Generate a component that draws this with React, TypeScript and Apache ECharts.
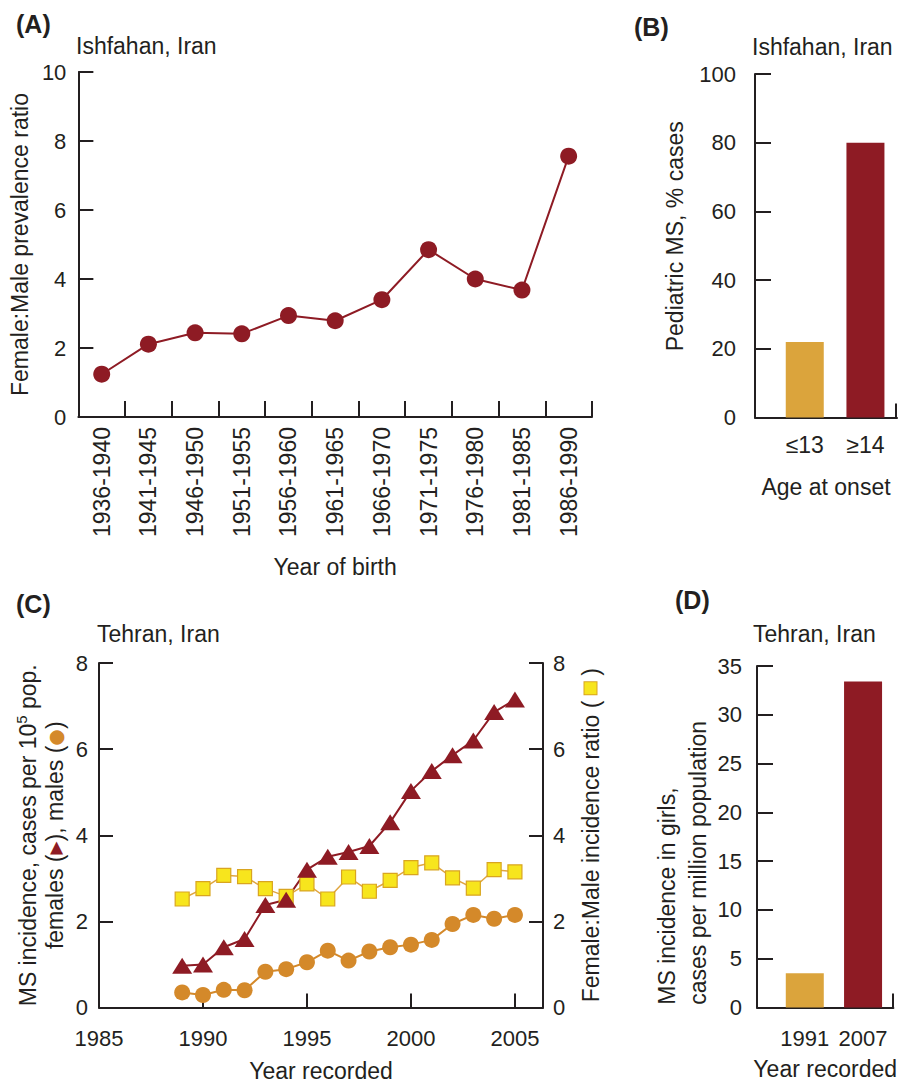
import React, { useEffect, useRef } from "react";
import * as echarts from "echarts";

// ---------- Panel A: Ishfahan, female:male prevalence ratio by year of birth
const birthCohorts = [
  "1936-1940", "1941-1945", "1946-1950", "1951-1955", "1956-1960", "1961-1965",
  "1966-1970", "1971-1975", "1976-1980", "1981-1985", "1986-1990",
];
const prevalenceRatio = [1.24, 2.11, 2.44, 2.41, 2.94, 2.79, 3.4, 4.85, 4.0, 3.68, 7.56];

// ---------- Panel B: Ishfahan, pediatric MS % cases by age at onset
const onsetAges = ["≤13", "≥14"];
const pediatricPct = [22, 80];

// ---------- Panel C: Tehran, incidence per 10^5 by year recorded
const years = [1989, 1990, 1991, 1992, 1993, 1994, 1995, 1996, 1997, 1998, 1999, 2000, 2001, 2002, 2003, 2004, 2005];
const femaleIncidence = [0.97, 1.0, 1.4, 1.59, 2.38, 2.5, 3.2, 3.5, 3.61, 3.75, 4.3, 5.03, 5.49, 5.86, 6.2, 6.86, 7.15];
const maleIncidence = [0.35, 0.29, 0.41, 0.4, 0.83, 0.89, 1.05, 1.32, 1.09, 1.3, 1.4, 1.46, 1.57, 1.94, 2.15, 2.06, 2.15];
const fmIncidenceRatio = [2.52, 2.76, 3.07, 3.04, 2.76, 2.58, 2.87, 2.52, 3.03, 2.7, 2.95, 3.25, 3.36, 3.01, 2.77, 3.2, 3.15];
const yearLabelsC = [1985, 1990, 1995, 2000, 2005];
const yearTicksC = [1990, 1995, 2000, 2005];

// ---------- Panel D: Tehran, MS incidence in girls per million
const recordedYears = ["1991", "2007"];
const girlsIncidence = [3.5, 33.4];

const FONT = "'Liberation Sans', Arial, Helvetica, sans-serif";
const TXT = "#231f20";
const RED = "#8e1b24";
const GOLD = "#dba43c";
const ORANGE = "#d4892a";
const YELLOW = "#f7e51d";

const LS = 23; // label/name font size
const TS = 22; // tick label font size

const axisLine = { show: true, onZero: false, lineStyle: { color: TXT, width: 2 } };
const tick = (len: number) => ({ show: true, inside: true, length: len, lineStyle: { color: TXT, width: 2 } });
const noSplit = { show: false };

export default function App() {
  const ref = useRef<HTMLDivElement>(null);
  useEffect(() => {
    if (!ref.current) return;
    const chart = echarts.init(ref.current, null, { renderer: "svg" });
    const titleStyle = { fontFamily: FONT, fontSize: LS, fontWeight: "normal" as const, color: TXT };
    const boldStyle = { fontFamily: FONT, fontSize: 25, fontWeight: "bold" as const, color: TXT };
    const nameStyle = { fontFamily: FONT, fontSize: LS, color: TXT };
    const labelStyle = { fontFamily: FONT, fontSize: TS, color: TXT };

    const option: any = {
      animation: false,
      backgroundColor: "#ffffff",
      textStyle: { fontFamily: FONT, color: TXT },
      title: [
        { text: "(A)", left: 16, top: 11, padding: 0, textStyle: boldStyle },
        { text: "Ishfahan, Iran", left: 76, top: 34, padding: 0, textStyle: titleStyle },
        { text: "(B)", left: 634, top: 14, padding: 0, textStyle: boldStyle },
        { text: "Ishfahan, Iran", left: 752, top: 35, padding: 0, textStyle: titleStyle },
        { text: "(C)", left: 16, top: 591, padding: 0, textStyle: boldStyle },
        { text: "Tehran, Iran", left: 97, top: 622, padding: 0, textStyle: titleStyle },
        { text: "(D)", left: 675, top: 587, padding: 0, textStyle: boldStyle },
        { text: "Tehran, Iran", left: 753, top: 622, padding: 0, textStyle: titleStyle },
      ],
      grid: [
        { left: 76, top: 72, width: 516, height: 345 },
        { left: 755, top: 74, width: 142, height: 343.5 },
        { left: 99, top: 663, width: 444, height: 344.5 },
        { left: 757, top: 666, width: 141, height: 341.5 },
      ],
      xAxis: [
        {
          gridIndex: 0,
          type: "category",
          data: birthCohorts,
          boundaryGap: true,
          axisLine,
          axisTick: { ...tick(16), interval: 0 },
          axisLabel: { ...labelStyle, fontSize: LS, rotate: 90, margin: 10, interval: 0 },
          name: "Year of birth",
          nameLocation: "middle",
          nameGap: 138,
          nameTextStyle: nameStyle,
        },
        {
          gridIndex: 1,
          type: "value",
          min: -0.82,
          max: 1.52,
          axisLine,
          splitLine: noSplit,
          axisTick: { ...tick(14), customValues: [1.505] },
          axisLabel: {
            ...labelStyle,
            fontSize: LS,
            margin: 16,
            customValues: [0, 1],
            formatter: (v: number) => onsetAges[Math.round(v)] ?? "",
          },
          name: "Age at onset",
          nameLocation: "middle",
          nameGap: 58,
          nameTextStyle: nameStyle,
        },
        {
          gridIndex: 2,
          type: "value",
          min: 1985,
          max: 2006.35,
          axisLine,
          splitLine: noSplit,
          axisTick: { ...tick(14), customValues: yearTicksC },
          axisLabel: { ...labelStyle, margin: 20, customValues: yearLabelsC, formatter: (v: number) => String(v) },
          name: "Year recorded",
          nameLocation: "middle",
          nameGap: 52,
          nameTextStyle: nameStyle,
        },
        {
          gridIndex: 3,
          type: "value",
          min: -0.82,
          max: 1.52,
          axisLine,
          splitLine: noSplit,
          axisTick: { ...tick(14), customValues: [1.505] },
          axisLabel: {
            ...labelStyle,
            margin: 20,
            customValues: [0, 1],
            formatter: (v: number) => recordedYears[Math.round(v)] ?? "",
          },
          name: "Year recorded",
          nameLocation: "middle",
          nameGap: 50,
          nameTextStyle: nameStyle,
        },
      ],
      yAxis: [
        {
          gridIndex: 0,
          type: "value",
          min: 0,
          max: 10,
          interval: 2,
          axisLine,
          splitLine: noSplit,
          axisTick: tick(15),
          axisLabel: { ...labelStyle, margin: 12 },
          name: "Female:Male prevalence ratio",
          nameLocation: "middle",
          nameRotate: 90,
          nameGap: 42,
          nameTextStyle: nameStyle,
        },
        {
          gridIndex: 1,
          type: "value",
          min: 0,
          max: 100,
          interval: 20,
          axisLine,
          splitLine: noSplit,
          axisTick: tick(16),
          axisLabel: { ...labelStyle, margin: 19 },
          name: "Pediatric MS, % cases",
          nameLocation: "middle",
          nameRotate: 90,
          nameGap: 69,
          nameTextStyle: { ...nameStyle, padding: [0, 0, 0, 19] },
        },
        {
          gridIndex: 2,
          type: "value",
          min: 0,
          max: 8,
          interval: 2,
          axisLine,
          splitLine: noSplit,
          axisTick: tick(14),
          axisLabel: { ...labelStyle, margin: 11 },
          name:
            "{t|MS incidence, cases per 10}{sup|5}{t| pop.}\n{t|females (}{tri|▶}{t|), males (}{dot|●}{t|)}",
          nameLocation: "middle",
          nameRotate: 90,
          nameGap: 31,
          nameTextStyle: {
            ...nameStyle,
            lineHeight: 27,
            rich: {
              t: { fontFamily: FONT, fontSize: LS, color: TXT, lineHeight: 27 },
              sup: { fontFamily: FONT, fontSize: 15, color: TXT, lineHeight: 15, verticalAlign: "top" },
              tri: { fontFamily: "'DejaVu Sans'", fontSize: 17, color: RED, lineHeight: 27 },
              dot: { fontFamily: "'DejaVu Sans'", fontSize: 19, color: ORANGE, lineHeight: 27 },
            },
          },
        },
        {
          gridIndex: 2,
          type: "value",
          position: "right",
          min: 0,
          max: 8,
          interval: 2,
          axisLine,
          splitLine: noSplit,
          axisTick: tick(14),
          axisLabel: { ...labelStyle, margin: 10 },
          name: "{t|Female:Male incidence ratio ( }{sq| }{t| )}",
          nameLocation: "middle",
          nameRotate: 90,
          nameGap: 36,
          nameTextStyle: {
            ...nameStyle,
            rich: {
              t: { fontFamily: FONT, fontSize: LS, color: TXT },
              sq: {
                width: 12,
                height: 12,
                backgroundColor: YELLOW,
                borderColor: "#d9a520",
                borderWidth: 1,
                fontSize: 8,
              },
            },
          },
        },
        {
          gridIndex: 3,
          type: "value",
          min: 0,
          max: 35,
          interval: 5,
          axisLine,
          splitLine: noSplit,
          axisTick: tick(16),
          axisLabel: { ...labelStyle, margin: 15 },
          name: "{a|MS incidence in girls,}\n{a|cases per million population}",
          nameLocation: "middle",
          nameRotate: 90,
          nameGap: 43,
          nameTextStyle: {
            ...nameStyle,
            lineHeight: 31,
            rich: {
              a: { fontFamily: FONT, fontSize: LS, color: TXT, lineHeight: 31, width: 336, align: "left" },
            },
          },
        },
      ],
      series: [
        {
          name: "Female:Male prevalence ratio",
          type: "line",
          xAxisIndex: 0,
          yAxisIndex: 0,
          data: prevalenceRatio,
          symbol: "circle",
          symbolSize: 17,
          itemStyle: { color: RED },
          lineStyle: { color: RED, width: 2 },
        },
        {
          name: "Pediatric MS",
          type: "bar",
          xAxisIndex: 1,
          yAxisIndex: 1,
          barWidth: 38,
          data: onsetAges.map((_, i) => ({
            value: [i, pediatricPct[i]],
            itemStyle: { color: i === 0 ? GOLD : RED },
          })),
        },
        {
          name: "Female:Male incidence ratio",
          type: "line",
          xAxisIndex: 2,
          yAxisIndex: 3,
          data: years.map((y, i) => [y, fmIncidenceRatio[i]]),
          symbol: "rect",
          symbolSize: 14,
          itemStyle: { color: YELLOW, borderColor: "#d9a520", borderWidth: 1.2 },
          lineStyle: { color: "#e0a640", width: 1.5 },
        },
        {
          name: "Males",
          type: "line",
          xAxisIndex: 2,
          yAxisIndex: 2,
          data: years.map((y, i) => [y, maleIncidence[i]]),
          symbol: "circle",
          symbolSize: 16,
          itemStyle: { color: ORANGE },
          lineStyle: { color: ORANGE, width: 2 },
        },
        {
          name: "Females",
          type: "line",
          xAxisIndex: 2,
          yAxisIndex: 2,
          data: years.map((y, i) => [y, femaleIncidence[i]]),
          symbol: "triangle",
          symbolSize: [20, 16],
          itemStyle: { color: RED },
          lineStyle: { color: RED, width: 2 },
        },
        {
          name: "MS incidence in girls",
          type: "bar",
          xAxisIndex: 3,
          yAxisIndex: 4,
          barWidth: 38,
          data: recordedYears.map((_, i) => ({
            value: [i, girlsIncidence[i]],
            itemStyle: { color: i === 0 ? GOLD : RED },
          })),
        },
      ],
    };
    chart.setOption(option);
    return () => chart.dispose();
  }, []);
  return (
    <div
      ref={ref}
      style={{ position: "absolute", left: 0, top: 0, width: 899, height: 1086, background: "#fff" }}
    />
  );
}
